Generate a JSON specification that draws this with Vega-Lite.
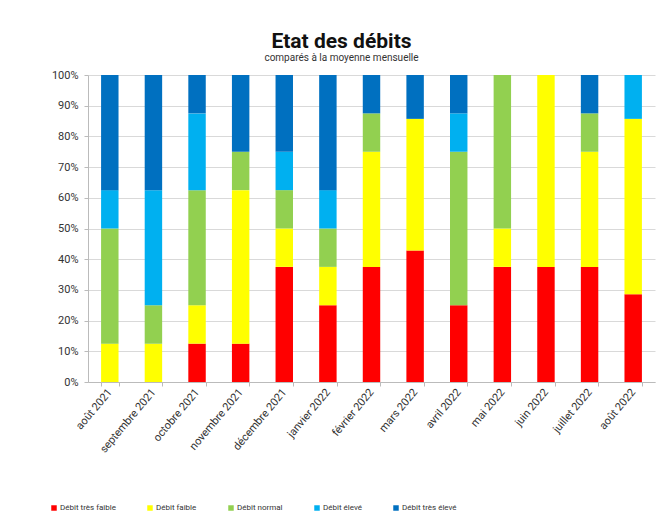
{
  "$schema": "https://vega.github.io/schema/vega-lite/v6.json",
  "width": 567,
  "height": 307,
  "autosize": "none",
  "padding": {"left": 88, "top": 75, "right": 13, "bottom": 148},
  "background": "white",
  "title": {
    "text": "Etat des débits",
    "subtitle": "comparés à la moyenne mensuelle",
    "anchor": "middle",
    "dx": -30,
    "offset": 6,
    "font": "Liberation Sans Narrow, Roboto, sans-serif",
    "fontSize": 21,
    "fontWeight": "bold",
    "color": "#111",
    "subtitleFont": "Liberation Sans Narrow, Roboto, sans-serif",
    "subtitleFontSize": 10,
    "subtitleColor": "#333",
    "subtitlePadding": 1
  },
  "data": {
    "values": [
      {"mois": "août 2021", "cat": "Débit faible", "k": 2, "n": 1},
      {"mois": "août 2021", "cat": "Débit normal", "k": 3, "n": 3},
      {"mois": "août 2021", "cat": "Débit élevé", "k": 4, "n": 1},
      {"mois": "août 2021", "cat": "Débit très élevé", "k": 5, "n": 3},
      {"mois": "septembre 2021", "cat": "Débit faible", "k": 2, "n": 1},
      {"mois": "septembre 2021", "cat": "Débit normal", "k": 3, "n": 1},
      {"mois": "septembre 2021", "cat": "Débit élevé", "k": 4, "n": 3},
      {"mois": "septembre 2021", "cat": "Débit très élevé", "k": 5, "n": 3},
      {"mois": "octobre 2021", "cat": "Débit très faible", "k": 1, "n": 1},
      {"mois": "octobre 2021", "cat": "Débit faible", "k": 2, "n": 1},
      {"mois": "octobre 2021", "cat": "Débit normal", "k": 3, "n": 3},
      {"mois": "octobre 2021", "cat": "Débit élevé", "k": 4, "n": 2},
      {"mois": "octobre 2021", "cat": "Débit très élevé", "k": 5, "n": 1},
      {"mois": "novembre 2021", "cat": "Débit très faible", "k": 1, "n": 1},
      {"mois": "novembre 2021", "cat": "Débit faible", "k": 2, "n": 4},
      {"mois": "novembre 2021", "cat": "Débit normal", "k": 3, "n": 1},
      {"mois": "novembre 2021", "cat": "Débit très élevé", "k": 5, "n": 2},
      {"mois": "décembre 2021", "cat": "Débit très faible", "k": 1, "n": 3},
      {"mois": "décembre 2021", "cat": "Débit faible", "k": 2, "n": 1},
      {"mois": "décembre 2021", "cat": "Débit normal", "k": 3, "n": 1},
      {"mois": "décembre 2021", "cat": "Débit élevé", "k": 4, "n": 1},
      {"mois": "décembre 2021", "cat": "Débit très élevé", "k": 5, "n": 2},
      {"mois": "janvier 2022", "cat": "Débit très faible", "k": 1, "n": 2},
      {"mois": "janvier 2022", "cat": "Débit faible", "k": 2, "n": 1},
      {"mois": "janvier 2022", "cat": "Débit normal", "k": 3, "n": 1},
      {"mois": "janvier 2022", "cat": "Débit élevé", "k": 4, "n": 1},
      {"mois": "janvier 2022", "cat": "Débit très élevé", "k": 5, "n": 3},
      {"mois": "février 2022", "cat": "Débit très faible", "k": 1, "n": 3},
      {"mois": "février 2022", "cat": "Débit faible", "k": 2, "n": 3},
      {"mois": "février 2022", "cat": "Débit normal", "k": 3, "n": 1},
      {"mois": "février 2022", "cat": "Débit très élevé", "k": 5, "n": 1},
      {"mois": "mars 2022", "cat": "Débit très faible", "k": 1, "n": 3},
      {"mois": "mars 2022", "cat": "Débit faible", "k": 2, "n": 3},
      {"mois": "mars 2022", "cat": "Débit très élevé", "k": 5, "n": 1},
      {"mois": "avril 2022", "cat": "Débit très faible", "k": 1, "n": 2},
      {"mois": "avril 2022", "cat": "Débit normal", "k": 3, "n": 4},
      {"mois": "avril 2022", "cat": "Débit élevé", "k": 4, "n": 1},
      {"mois": "avril 2022", "cat": "Débit très élevé", "k": 5, "n": 1},
      {"mois": "mai 2022", "cat": "Débit très faible", "k": 1, "n": 3},
      {"mois": "mai 2022", "cat": "Débit faible", "k": 2, "n": 1},
      {"mois": "mai 2022", "cat": "Débit normal", "k": 3, "n": 4},
      {"mois": "juin 2022", "cat": "Débit très faible", "k": 1, "n": 3},
      {"mois": "juin 2022", "cat": "Débit faible", "k": 2, "n": 5},
      {"mois": "juillet 2022", "cat": "Débit très faible", "k": 1, "n": 3},
      {"mois": "juillet 2022", "cat": "Débit faible", "k": 2, "n": 3},
      {"mois": "juillet 2022", "cat": "Débit normal", "k": 3, "n": 1},
      {"mois": "juillet 2022", "cat": "Débit très élevé", "k": 5, "n": 1},
      {"mois": "août 2022", "cat": "Débit très faible", "k": 1, "n": 2},
      {"mois": "août 2022", "cat": "Débit faible", "k": 2, "n": 4},
      {"mois": "août 2022", "cat": "Débit élevé", "k": 4, "n": 1}
    ]
  },
  "mark": {"type": "bar"},
  "encoding": {
    "x": {
      "field": "mois",
      "type": "nominal",
      "sort": null,
      "scale": {"paddingInner": 0.6, "paddingOuter": 0.3},
      "axis": {
        "title": null,
        "labelAngle": -50,
        "labelFont": "Liberation Sans Narrow, Roboto, sans-serif",
        "labelFontSize": 11,
        "labelColor": "#333",
        "labelPadding": 4,
        "domainColor": "#bbb",
        "tickColor": "#bbb",
        "tickBand": "extent",
        "tickSize": 4
      }
    },
    "y": {
      "aggregate": "sum",
      "field": "n",
      "type": "quantitative",
      "stack": "normalize",
      "axis": {
        "title": null,
        "format": ".0%",
        "values": [0, 0.1, 0.2, 0.3, 0.4, 0.5, 0.6, 0.7, 0.8, 0.9, 1],
        "labelOverlap": false,
        "labelFont": "Liberation Sans Narrow, Roboto, sans-serif",
        "labelFontSize": 11,
        "labelColor": "#333",
        "labelPadding": 6,
        "gridColor": "#d9d9d9",
        "domainColor": "#bbb",
        "tickColor": "#bbb",
        "tickSize": 4
      }
    },
    "color": {
      "field": "cat",
      "type": "nominal",
      "scale": {
        "domain": ["Débit très faible", "Débit faible", "Débit normal", "Débit élevé", "Débit très élevé"],
        "range": ["#FF0000", "#FFFF00", "#92D050", "#00B0F0", "#0070C0"]
      },
      "legend": {
        "title": null,
        "orient": "none",
        "direction": "horizontal",
        "legendX": -38,
        "legendY": 429,
        "columns": 5,
        "columnPadding": 30,
        "symbolType": "square",
        "symbolSize": 30,
        "symbolStrokeWidth": 0,
        "labelFont": "Liberation Sans Narrow, Roboto, sans-serif",
        "labelFontSize": 8,
        "labelColor": "#333",
        "labelOffset": 2
      }
    },
    "order": {"field": "k", "type": "quantitative", "aggregate": "min"}
  },
  "config": {"view": {"stroke": null}}
}
